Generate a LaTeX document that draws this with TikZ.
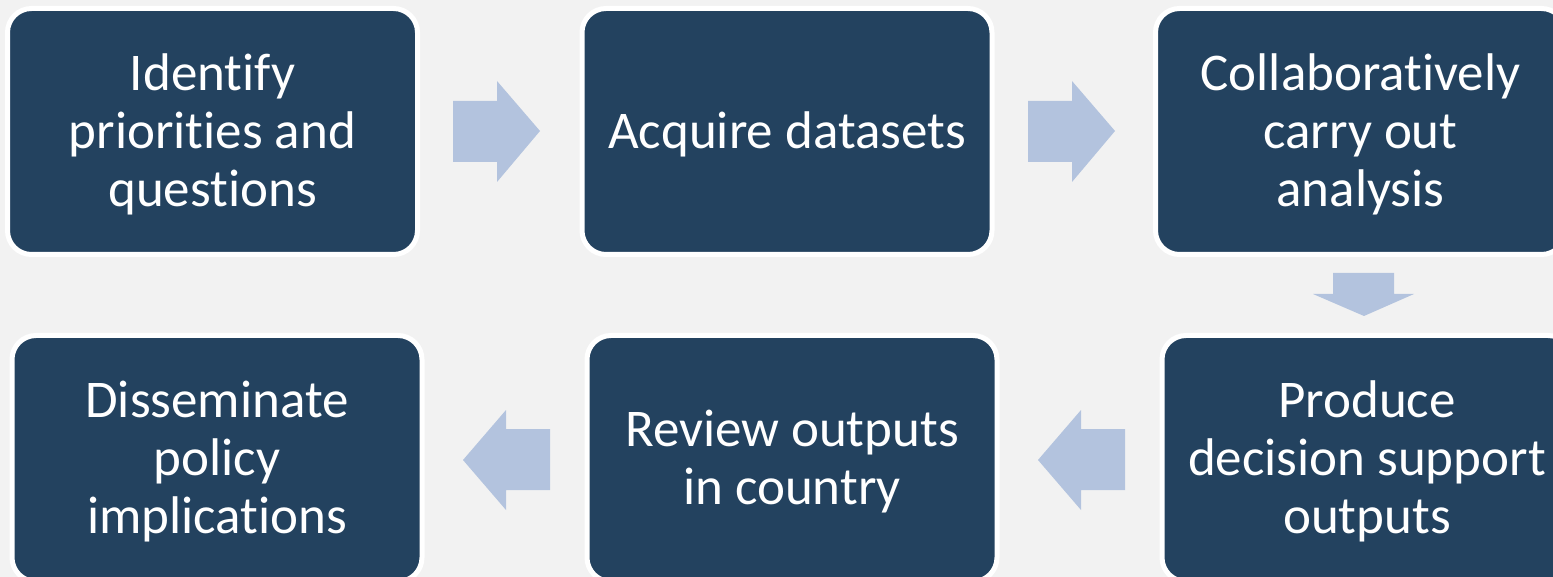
\documentclass[tikz,border=0pt]{standalone}
\usepackage{fontspec}
\setmainfont[Ligatures=NoCommon]{Carlito}
\definecolor{navy}{HTML}{23425F}
\definecolor{arrowblue}{HTML}{B3C3DE}
\definecolor{bgcol}{HTML}{F2F2F2}
\tikzset{
  stepbox/.style={rectangle, rounded corners=24pt, fill=navy, draw=white,
    line width=5pt, minimum width=410pt, minimum height=246pt, inner sep=0pt},
  steptext/.style={inner sep=0pt, text=white, align=center,
    font=\fontsize{53}{58}\selectfont},
  blockarrow/.style={fill=arrowblue, draw=none}
}
\begin{document}
\begin{tikzpicture}[x=1pt,y=-1pt]
\useasboundingbox (0,0) rectangle (1553,577);
\fill[bgcol] (0,0) rectangle (1553,577);
% boxes
\node[stepbox] (b1) at (212.5,131.5) {};
\node[stepbox] (b2) at (787,131.5) {};
\node[stepbox] (b3) at (1360.5,131.5) {};
\node[stepbox] (b6) at (1367,458.5) {};
\node[stepbox] (b5) at (792,458.5) {};
\node[stepbox] (b4) at (217,458.5) {};
% texts
\node[steptext] (t1) at ([yshift=-3pt]b1.center) {Identify\\priorities and\\questions};
\node[steptext] (t2) at ([yshift=-3pt]b2.center) {Acquire datasets};
\node[steptext] (t3) at ([yshift=-3pt]b3.center) {Collaboratively\\carry out\\analysis};
\node[steptext] (t6) at ([yshift=-3pt]b6.center) {Produce\\decision support\\outputs};
\node[steptext] (t5) at ([yshift=-3pt]b5.center) {Review outputs\\in country};
\node[steptext] (t4) at ([yshift=-3pt]b4.center) {Disseminate\\policy\\implications};
% block arrows
\fill[blockarrow] (453,101) -- (497,101) -- (497,81) -- (540,131) -- (497,182) -- (497,162) -- (453,162) -- cycle;
\fill[blockarrow] (1028,101) -- (1072,101) -- (1072,81) -- (1115,131) -- (1072,182) -- (1072,162) -- (1028,162) -- cycle;
\fill[blockarrow] (1333,273) -- (1394,273) -- (1394,294) -- (1414,294) -- (1364,316) -- (1313,294) -- (1333,294) -- cycle;
\fill[blockarrow] (1125,429) -- (1081,429) -- (1081,410) -- (1038,460) -- (1081,510) -- (1081,490) -- (1125,490) -- cycle;
\fill[blockarrow] (550,429) -- (506,429) -- (506,410) -- (463,460) -- (506,510) -- (506,490) -- (550,490) -- cycle;
\end{tikzpicture}
\end{document}
